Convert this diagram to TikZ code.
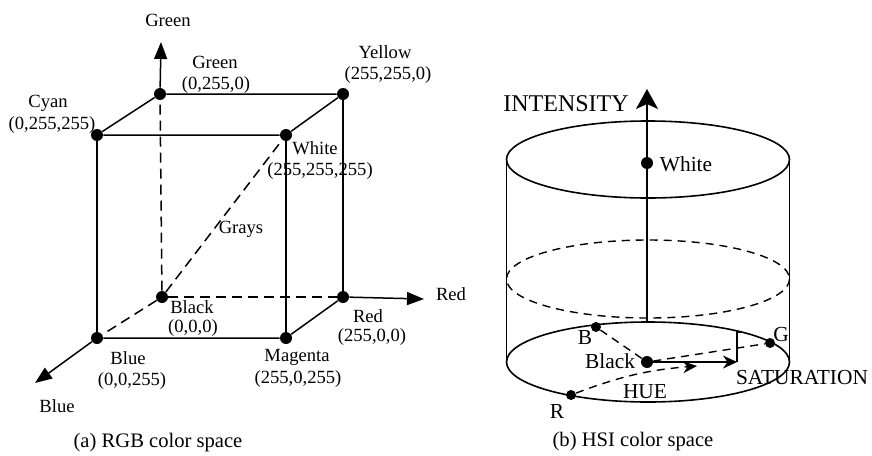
\documentclass[tikz,border=0pt]{standalone}
\usepackage{fontspec}
\setmainfont{Liberation Serif}
\usetikzlibrary{arrows.meta}
\begin{document}
\begin{tikzpicture}[x=0.5pt,y=-0.5pt,
  edge/.style={line width=0.75pt},
  dsh/.style={line width=0.75pt, dash pattern=on 5pt off 3pt},
  axarrow/.style={line width=0.75pt,-{Triangle[length=8.5pt,width=6.5pt]}},
  dot/.style={circle,fill=black,inner sep=0pt,minimum size=6pt},
  sdot/.style={circle,fill=black,inner sep=0pt,minimum size=5pt},
  lbl/.style={inner sep=0pt,font=\fontsize{9.3}{10}\selectfont},
  hlbl/.style={inner sep=0pt,font=\fontsize{10.7}{12}\selectfont},
  captxt/.style={inner sep=0pt,font=\fontsize{10.3}{12}\selectfont},
  hline/.style={line width=0.8pt},
  hdsh/.style={line width=0.7pt, dash pattern=on 4pt off 3pt},
]
\path[use as bounding box] (0,0) rectangle (872,455);

% ---------------- RGB cube ----------------
\node[dot] (G) at (160,94) {};
\node[dot] (Y) at (343,94) {};
\node[dot] (C) at (97,135) {};
\node[dot] (W) at (286,135) {};
\node[dot] (K) at (162,297) {};
\node[dot] (R) at (343,297) {};
\node[dot] (B) at (97,338) {};
\node[dot] (M) at (286,338) {};
\coordinate (gtip) at (161,42);
\coordinate (rtip) at (424,299);
\coordinate (btip) at (35,383);

\draw[edge] (C) -- (G) -- (Y);
\draw[edge] (C) -- (W) -- (Y);
\draw[edge] (C) -- (B);
\draw[edge] (W) -- (M);
\draw[edge] (Y) -- (R);
\draw[edge] (B) -- (M) -- (R);
\draw[dsh] (K) -- (G);
\draw[dsh] (K) -- (R);
\draw[dsh] (K) -- (B);
\draw[dsh] (K) -- (W);
\draw[axarrow] (G) -- (gtip);
\draw[axarrow] (R) -- (rtip);
\draw[axarrow] (B) -- (btip);

\node[lbl] (lgax) at (168,20) {Green};
\node[lbl] (lrax) at (451,294) {Red};
\node[lbl] (lbax) at (57,406) {Blue};
\node[lbl] (lg1) at (215,62) {Green};
\node[lbl] (lg2) at (216,85) {(0,255,0)};
\node[lbl] (ly1) at (385,52) {Yellow};
\node[lbl] (ly2) at (388,75) {(255,255,0)};
\node[lbl] (lc1) at (48,103) {Cyan};
\node[lbl] (lc2) at (52,125) {(0,255,255)};
\node[lbl] (lw1) at (315,148) {White};
\node[lbl] (lw2) at (320,171) {(255,255,255)};
\node[lbl] (lgr) at (241,229) {Grays};
\node[lbl] (lk1) at (192,307) {Black};
\node[lbl] (lk2) at (193,328) {(0,0,0)};
\node[lbl] (lr1) at (368,316) {Red};
\node[lbl] (lr2) at (372,337) {(255,0,0)};
\node[lbl] (lb1) at (128,358) {Blue};
\node[lbl] (lb2) at (132,381) {(0,0,255)};
\node[lbl] (lm1) at (297,357) {Magenta};
\node[lbl] (lm2) at (298,379) {(255,0,255)};
\node[captxt] (capa) at (158,443) {(a) RGB color space};

% ---------------- HSI cylinder ----------------
\draw[hline] (648,159.5) ellipse [x radius=141.5, y radius=38.5];
\draw[hdsh] (648,279) ellipse [x radius=141.5, y radius=39];
\draw[hline] (648,362) ellipse [x radius=141.5, y radius=40];
\draw[hline] (506.5,159.5) -- (506.5,362);
\draw[hline] (789.5,159.5) -- (789.5,362);

\coordinate (ibase) at (647,322);
\coordinate (itop) at (647,89);
\draw[line width=1pt,-{Stealth[length=10pt,width=11pt,inset=2.5pt]}] (ibase) -- (itop);

\node[dot] (HW) at (647,163) {};
\node[dot] (HK) at (647,362) {};
\node[sdot] (HB) at (596,327) {};
\node[sdot] (HG) at (770,343) {};
\node[sdot] (HR) at (571,395) {};
\coordinate (hue) at (697,366);
\coordinate (sat) at (737,362);
\coordinate (mtop) at (737,332);
\coordinate (mtick) at (742,332);

\draw[hdsh] (HB) -- (HK);
\draw[hdsh] (HK) -- (HG);
\draw[hdsh,-{Stealth[length=7pt,width=6pt]}] (HR) to[bend left=8] (hue);
\draw[line width=1pt,-{Stealth[length=7pt,width=6.5pt]}] (HK) -- (sat);
\draw[hline] (sat) -- (mtop) -- (mtick);

\node[font=\fontsize{12}{14}\selectfont,inner sep=0pt] (lint) at (566,104) {INTENSITY};
\node[hlbl] (lhw) at (686,164) {White};
\node[hlbl] (lhb) at (585,338) {B};
\node[hlbl] (lhg) at (781,335) {G};
\node[hlbl] (lhr) at (557,411) {R};
\node[hlbl] (lhk) at (610,361) {Black};
\node[hlbl] (lhue) at (645,392) {HUE};
\node[hlbl] (lsat) at (802,378) {SATURATION};
\node[captxt] (capb) at (633,442) {(b) HSI color space};
\end{tikzpicture}
\end{document}
